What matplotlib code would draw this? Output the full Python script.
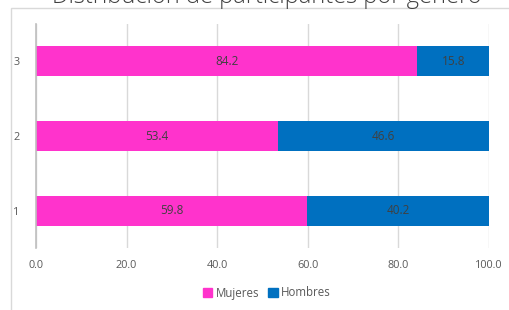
import numpy as np
import matplotlib.pyplot as plt
from matplotlib.patches import Rectangle, Patch

categorias = ['1', '2', '3']
mujeres = [59.8, 53.4, 84.2]
hombres = [40.2, 46.6, 15.8]
ticks_x = [0, 20, 40, 60, 80, 100]

rosa = '#FF33CC'
azul = '#0070C0'
gris_texto = '#595959'
gris_linea = '#D9D9D9'

plt.rcParams['font.family'] = ['Open Sans', 'DejaVu Sans']

W, H = 510, 310
fig = plt.figure(figsize=(W / 100, H / 100), dpi=100)

# marco del gráfico (recortado en la imagen original)
fig.patches.append(Rectangle((11 / W, -0.1), 1.2, 1 - 8 / H + 0.1,
                             transform=fig.transFigure, fill=False,
                             edgecolor=gris_linea, linewidth=1))

ax = fig.add_axes([36 / W, 1 - 248 / H, (489 - 36) / W, (248 - 24) / H])

y = np.arange(1, len(categorias) + 1)
b1 = ax.barh(y, mujeres, height=0.4, color=rosa, label='Mujeres')
b2 = ax.barh(y, hombres, left=mujeres, height=0.4, color=azul, label='Hombres')

for barras in (b1, b2):
    for r in barras:
        ax.text(r.get_x() + r.get_width() / 2, r.get_y() + r.get_height() / 2,
                f'{r.get_width():.1f}', ha='center', va='center',
                fontsize=8.5, color='#404040')

ax.set_xlim(0, 100)
ax.set_ylim(0.5, 3.5)
ax.set_xticks(ticks_x)
ax.set_xticklabels([f'{t:.1f}' for t in ticks_x])
ax.set_yticks(y)
ax.set_yticklabels(categorias)
ax.tick_params(length=0, labelsize=7.8, labelcolor=gris_texto)
ax.tick_params(axis='x', pad=9)
ax.tick_params(axis='y', pad=12)
ax.grid(axis='x', color=gris_linea, linewidth=1)
ax.set_axisbelow(True)
for s in ('top', 'right', 'bottom'):
    ax.spines[s].set_visible(False)
ax.spines['left'].set_color('#BFBFBF')
ax.spines['left'].set_linewidth(1.2)

fig.text(267 / W, 1 - 3 / H, 'Distribución de participantes por género',
         ha='center', va='baseline', fontsize=17, color='#404040',
         fontweight='light')

handles = [Patch(color=rosa, label='Mujeres'), Patch(color=azul, label='Hombres')]
fig.legend(handles=handles, loc='center', bbox_to_anchor=(267 / W, 1 - 293 / H),
           ncol=2, frameon=False, fontsize=8.3, handlelength=0.8,
           handleheight=0.8, handletextpad=0.3, columnspacing=0.8,
           labelcolor=gris_texto)

fig.savefig('out.png', dpi=100)
